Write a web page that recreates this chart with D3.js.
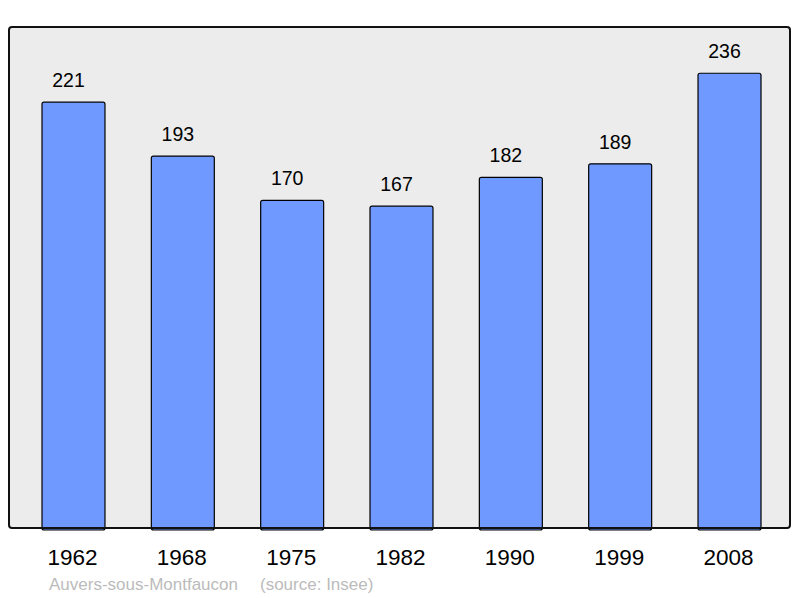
<!DOCTYPE html>
<html>
<head>
<meta charset="utf-8">
<script src="https://cdn.jsdelivr.net/npm/d3@7"></script>
<style>
  body { margin: 0; background: #fff; }
  text { font-family: "Liberation Sans", Arial, sans-serif; }
</style>
</head>
<body>
<div id="canvas"></div>
<script>
// Population data
const years = ["1962", "1968", "1975", "1982", "1990", "1999", "2008"];
const population = [221, 193, 170, 167, 182, 189, 236];
const townName = "Auvers-sous-Montfaucon";
const sourceText = "(source: Insee)";

const width = 800;
const height = 598;
const frame = { left: 9, top: 27, right: 790, bottom: 528 };

let svg = d3.select('#canvas').append('svg')
  .attr('width', width)
  .attr('height', height);

// background frame
svg.append('rect')
  .attr('x', frame.left)
  .attr('y', frame.top)
  .attr('width', frame.right - frame.left)
  .attr('height', frame.bottom - frame.top)
  .attr('rx', 3)
  .style('fill', '#ececec')
  .style('stroke', 'none');

let x = d3.scaleBand()
  .domain(years)
  .range([42, 761])
  .paddingInner(0.424)
  .paddingOuter(0);

let y = d3.scaleLinear()
  .domain([0, 260])
  .range([frame.bottom, frame.top]);

// bars
svg.selectAll('.bar').data(years).enter()
  .append('rect')
  .classed('bar', true)
  .attr('x', d => x(d))
  .attr('y', (d, i) => y(population[i]))
  .attr('width', x.bandwidth())
  .attr('height', (d, i) => y(0) - y(population[i]) + 2)
  .attr('rx', 2)
  .style('fill', '#7099ff')
  .style('stroke', '#000')
  .style('stroke-width', 1.2);

// value labels (sit a little left of bar centre in the original)
svg.selectAll('.val').data(years).enter()
  .append('text')
  .attr('x', d => x(d) + x.bandwidth() / 2 - 5)
  .attr('y', (d, i) => y(population[i]) - 15)
  .attr('text-anchor', 'middle')
  .style('font-size', '19.5px')
  .style('fill', '#000')
  .text((d, i) => population[i]);

// frame border on top of bars
svg.append('rect')
  .attr('x', frame.left)
  .attr('y', frame.top)
  .attr('width', frame.right - frame.left)
  .attr('height', frame.bottom - frame.top)
  .attr('rx', 3)
  .style('fill', 'none')
  .style('stroke', '#111')
  .style('stroke-width', 2);

// year labels
svg.selectAll('.year').data(years).enter()
  .append('text')
  .attr('x', d => x(d) + x.bandwidth() / 2 - 1)
  .attr('y', 565)
  .attr('text-anchor', 'middle')
  .style('font-size', '22.5px')
  .style('fill', '#000')
  .text(d => d);

// source line
svg.append('text')
  .attr('x', 49)
  .attr('y', 590)
  .style('font-size', '17px')
  .style('fill', '#bbbbbb')
  .text(townName);
svg.append('text')
  .attr('x', 260)
  .attr('y', 590)
  .style('font-size', '17px')
  .style('fill', '#bbbbbb')
  .text(sourceText);
</script>
</body>
</html>
